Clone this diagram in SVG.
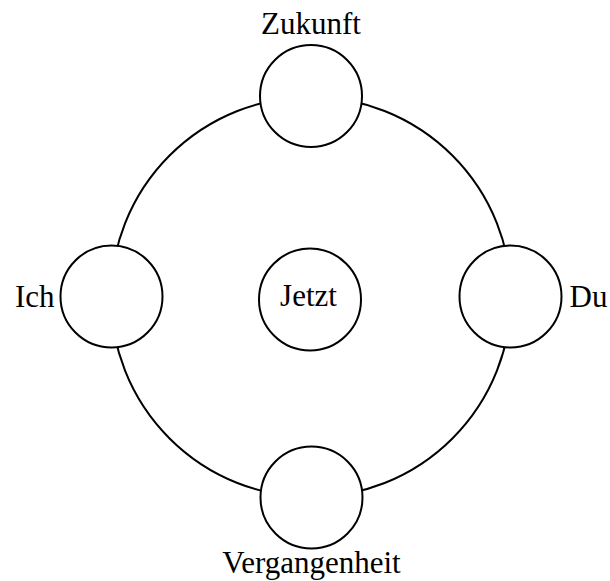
<svg xmlns="http://www.w3.org/2000/svg" width="610" height="581" viewBox="0 0 610 581">
<style>
.ring{fill:none;stroke:#000;stroke-width:2}
.node{fill:#fff;stroke:#000;stroke-width:2}
text{font-family:"Liberation Serif","Times New Roman",serif;font-size:31px;fill:#000}
</style>
<rect width="610" height="581" fill="#fff"/>
<g id="connectors">
<circle class="ring" cx="311" cy="297" r="200"/>
</g>
<g id="zukunft">
<circle class="node" cx="311" cy="96" r="51"/>
<text x="311" y="33.5" text-anchor="middle">Zukunft</text>
</g>
<g id="ich">
<circle class="node" cx="111.5" cy="296.5" r="51"/>
<text x="54.5" y="307" text-anchor="end">Ich</text>
</g>
<g id="du">
<circle class="node" cx="510.5" cy="296.5" r="51"/>
<text x="569.5" y="307" text-anchor="start">Du</text>
</g>
<g id="vergangenheit">
<circle class="node" cx="311.5" cy="497.5" r="51"/>
<text x="311.5" y="573" text-anchor="middle">Vergangenheit</text>
</g>
<g id="jetzt">
<circle class="node" cx="310" cy="299.5" r="51"/>
<text x="308.5" y="306" text-anchor="middle">Jetzt</text>
</g>
</svg>
